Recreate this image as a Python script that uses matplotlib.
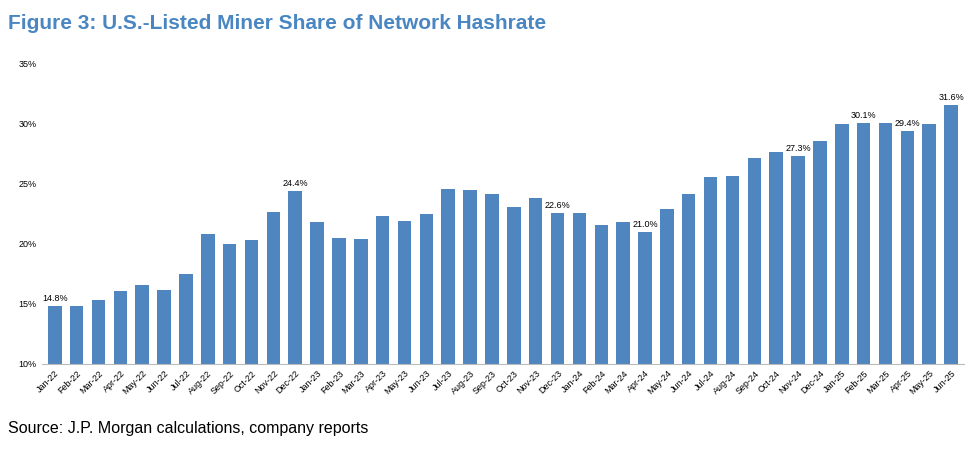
import matplotlib.pyplot as plt
import numpy as np

months = ["Jan-22","Feb-22","Mar-22","Apr-22","May-22","Jun-22","Jul-22","Aug-22","Sep-22","Oct-22","Nov-22","Dec-22",
          "Jan-23","Feb-23","Mar-23","Apr-23","May-23","Jun-23","Jul-23","Aug-23","Sep-23","Oct-23","Nov-23","Dec-23",
          "Jan-24","Feb-24","Mar-24","Apr-24","May-24","Jun-24","Jul-24","Aug-24","Sep-24","Oct-24","Nov-24","Dec-24",
          "Jan-25","Feb-25","Mar-25","Apr-25","May-25","Jun-25"]
share = [14.8,14.85,15.3,16.1,16.6,16.2,17.5,20.8,20.0,20.3,22.7,24.4,
         21.8,20.5,20.4,22.3,21.9,22.5,24.6,24.5,24.2,23.1,23.8,22.6,
         22.6,21.6,21.8,21.0,22.9,24.2,25.6,25.7,27.2,27.7,27.3,28.6,
         30.0,30.1,30.1,29.4,30.0,31.6]
labeled = ["Jan-22","Dec-22","Dec-23","Apr-24","Nov-24","Feb-25","Apr-25","Jun-25"]

fig = plt.figure(figsize=(9.69, 4.63), dpi=100)
fig.text(0.008, 0.95, "Figure 3: U.S.-Listed Miner Share of Network Hashrate", color="#4A86C1",
         fontsize=15, fontweight="bold", fontfamily="Liberation Sans", va="center")
fig.text(0.008, 0.075, "Source: J.P. Morgan calculations, company reports", fontsize=11.5,
         fontfamily="Liberation Sans", va="center")
ax = fig.add_axes([0.043, 0.214, 0.952, 0.648])
x = np.arange(len(months))
ax.bar(x, share, width=0.62, color="#4F86C0")
for i, (m, v) in enumerate(zip(months, share)):
    if m in labeled:
        ax.text(i, v + 0.25, f"{v:.1f}%", ha="center", va="bottom", fontsize=6.5, fontfamily="Liberation Sans")
ax.set_ylim(10, 35)
ax.set_xlim(-0.6, len(months) - 0.4)
ax.set_yticks(range(10, 36, 5))
ax.set_yticklabels([f"{t}%" for t in range(10, 36, 5)], fontsize=6.5, fontfamily="Liberation Sans")
ax.set_xticks(x)
ax.set_xticklabels(months, rotation=45, ha="right", rotation_mode="anchor", fontsize=6.5, fontfamily="Liberation Sans")
for s in ["top", "right", "left"]:
    ax.spines[s].set_visible(False)
ax.spines["bottom"].set_color("#BBBBBB")
ax.tick_params(axis="both", length=0)
fig.savefig("out.png", dpi=100)
